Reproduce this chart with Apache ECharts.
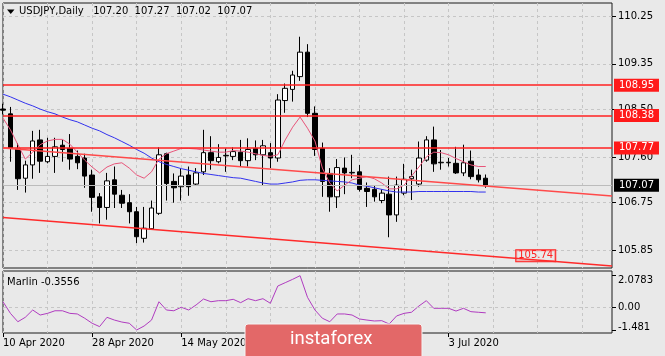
<!DOCTYPE html>
<html><head><meta charset="utf-8">
<script src="https://cdn.jsdelivr.net/npm/echarts@6/dist/echarts.min.js"></script>
<style>html,body{margin:0;padding:0;background:#e9e9e9;}#c{width:665px;height:356px;}</style>
</head><body><div id="c"></div>
<script>
const dates = ['10 Apr 2020','13 Apr 2020','14 Apr 2020','15 Apr 2020','16 Apr 2020','17 Apr 2020','20 Apr 2020','21 Apr 2020','22 Apr 2020','23 Apr 2020','24 Apr 2020','27 Apr 2020','28 Apr 2020','29 Apr 2020','30 Apr 2020','1 May 2020','4 May 2020','5 May 2020','6 May 2020','7 May 2020','8 May 2020','11 May 2020','12 May 2020','13 May 2020','14 May 2020','15 May 2020','18 May 2020','19 May 2020','20 May 2020','21 May 2020','22 May 2020','25 May 2020','26 May 2020','27 May 2020','28 May 2020','29 May 2020','1 Jun 2020','2 Jun 2020','3 Jun 2020','4 Jun 2020','5 Jun 2020','8 Jun 2020','9 Jun 2020','10 Jun 2020','11 Jun 2020','12 Jun 2020','15 Jun 2020','16 Jun 2020','17 Jun 2020','18 Jun 2020','19 Jun 2020','22 Jun 2020','23 Jun 2020','24 Jun 2020','25 Jun 2020','26 Jun 2020','29 Jun 2020','30 Jun 2020','1 Jul 2020','2 Jul 2020','3 Jul 2020','6 Jul 2020','7 Jul 2020','8 Jul 2020','9 Jul 2020','10 Jul 2020'];
const futureDates = ['13 Jul 2020','14 Jul 2020','15 Jul 2020','16 Jul 2020','17 Jul 2020','20 Jul 2020','21 Jul 2020','22 Jul 2020','23 Jul 2020','24 Jul 2020','27 Jul 2020','28 Jul 2020','29 Jul 2020','30 Jul 2020','31 Jul 2020','3 Aug 2020','4 Aug 2020'];
const opens  = [108.50,108.41,107.75,107.20,107.45,107.92,107.51,107.61,107.82,107.76,107.61,107.58,107.26,106.85,106.65,107.17,106.88,106.74,106.57,106.07,106.25,106.54,107.66,107.14,107.04,107.26,107.09,107.32,107.68,107.51,107.62,107.61,107.69,107.53,107.76,107.64,107.68,107.58,108.66,108.87,109.11,109.57,108.42,107.76,107.29,106.85,107.39,107.30,107.32,107.01,106.99,106.78,106.90,106.51,106.92,107.19,107.09,107.54,107.92,107.49,107.49,107.48,107.30,107.52,107.26,107.20];
const highs  = [108.60,108.54,107.86,107.53,108.09,108.11,107.96,107.96,107.92,108.03,107.72,107.66,107.36,106.92,107.30,107.42,106.98,106.90,106.66,106.66,106.78,107.78,107.68,107.29,107.39,107.42,107.39,108.11,107.99,107.84,107.76,107.78,107.92,107.95,107.91,107.92,107.86,108.78,108.98,109.22,109.86,109.72,108.55,107.87,107.39,107.56,107.59,107.64,107.45,107.12,107.07,106.99,107.23,107.23,107.47,107.36,107.89,107.99,108.17,107.73,107.58,107.79,107.83,107.72,107.37,107.27];
const lows   = [108.40,107.51,106.98,106.93,107.19,107.30,107.48,107.30,107.51,107.36,107.37,107.02,106.57,106.35,106.42,106.64,106.64,106.35,105.98,105.99,106.23,106.51,106.78,106.74,106.78,106.87,107.06,107.26,107.36,107.48,107.32,107.54,107.42,107.42,107.54,107.07,107.39,107.51,108.43,108.64,109.03,108.35,107.62,106.85,106.57,106.64,106.90,107.20,106.95,106.66,106.76,106.73,106.09,106.38,106.88,106.79,107.04,107.51,107.32,107.36,107.42,107.28,107.24,107.18,107.12,107.02];
const closes = [108.48,107.77,107.19,107.45,107.90,107.52,107.61,107.79,107.74,107.56,107.49,107.24,106.84,106.65,107.15,106.90,106.73,106.57,106.10,106.26,106.64,107.64,107.10,107.02,107.24,107.04,107.30,107.68,107.53,107.59,107.63,107.70,107.53,107.74,107.64,107.81,107.58,108.67,108.89,109.14,109.57,108.42,107.74,107.14,106.85,107.40,107.30,107.31,106.99,106.95,106.85,106.92,106.51,107.07,107.18,107.23,107.58,107.92,107.47,107.50,107.50,107.30,107.49,107.23,107.17,107.07];
const maSlow = [108.78,108.73,108.67,108.61,108.56,108.50,108.45,108.41,108.35,108.30,108.26,108.20,108.14,108.09,108.02,107.96,107.89,107.82,107.74,107.67,107.58,107.51,107.46,107.42,107.38,107.35,107.32,107.29,107.27,107.25,107.23,107.21,107.20,107.17,107.14,107.11,107.09,107.09,107.11,107.13,107.16,107.17,107.17,107.16,107.15,107.14,107.13,107.11,107.07,107.05,107.02,106.99,106.96,106.94,106.94,106.94,106.95,106.95,106.95,106.95,106.95,106.95,106.95,106.95,106.94,106.94];
const maFast = [108.33,108.11,107.83,107.56,107.69,107.83,107.90,107.93,107.93,107.84,107.69,107.54,107.41,107.30,107.41,107.47,107.49,107.39,107.26,107.20,107.32,107.56,107.66,107.71,107.76,107.76,107.75,107.73,107.71,107.69,107.69,107.72,107.71,107.69,107.66,107.63,107.61,107.64,107.92,108.16,108.35,108.14,107.90,107.39,107.11,106.96,107.07,107.17,107.20,107.23,107.19,107.11,107.00,107.00,107.07,107.24,107.41,107.60,107.69,107.68,107.64,107.57,107.51,107.45,107.42,107.42];
const marlin = [0.37,-0.39,-0.94,-0.65,-0.17,-0.50,-0.39,-0.22,-0.22,-0.39,-0.43,-0.71,-1.04,-1.26,-0.65,-0.83,-0.96,-1.04,-1.481,-1.22,-0.83,0.37,-0.17,-0.22,0.01,-0.17,0.16,0.55,0.37,0.44,0.44,0.53,0.31,0.57,0.44,0.57,0.27,1.40,1.62,1.84,2.0783,0.66,-0.17,-0.71,-0.94,-0.43,-0.43,-0.50,-0.76,-0.83,-0.89,-0.87,-1.09,-0.56,-0.39,-0.32,0.09,0.44,-0.06,-0.06,-0.06,-0.24,-0.06,-0.28,-0.32,-0.3556];
const levels = [108.95, 108.38, 107.77];
const lastPrice = 107.07;
const upperTrend = [107.77, 106.865];
const lowerTrend = [106.46, 105.55];
const lowerTag = 105.74;
const priceTicks = [110.25, 109.35, 108.50, 107.60, 106.75, 105.85];
const marlinTicks = [2.0783, 0, -1.481];
const marlinTickLabels = ['2.0783', '0.00', '-1.481'];
const titleText = 'USDJPY,Daily   107.20  107.27  107.02  107.07';
const marlinTitle = 'Marlin -0.3556';

const cats = dates.concat(futureDates);
const lastIdx = cats.length - 1;
const FONT = 'DejaVu Sans';
const grid = '#c6c6c6';
const showLabel = (i) => i % 12 === 0 && i < dates.length;

const chart = echarts.init(document.getElementById('c'), null, {renderer: 'canvas'});
chart.setOption({
  backgroundColor: '#e9e9e9',
  animation: false,
  grid: [
    {left: 3, top: 3, width: 609, height: 265, show: true, borderColor: '#1a1a1a', borderWidth: 1, backgroundColor: 'transparent'},
    {left: 3, top: 271, width: 609, height: 62, show: true, borderColor: '#1a1a1a', borderWidth: 1, backgroundColor: 'transparent'}
  ],
  xAxis: [
    {gridIndex: 0, type: 'category', data: cats, boundaryGap: false,
     axisLine: {show: false, onZero: false}, axisTick: {show: false}, axisLabel: {show: false},
     splitLine: {show: true, interval: 5, lineStyle: {color: grid, type: [3, 3], width: 1}}},
    {gridIndex: 1, type: 'category', data: cats, boundaryGap: false, position: 'bottom',
     axisLine: {show: false, onZero: false},
     axisTick: {show: true, interval: showLabel, length: 4, lineStyle: {color: '#000'}},
     axisLabel: {show: true, interval: showLabel, align: 'left', margin: 5, color: '#000', fontSize: 10, fontFamily: FONT},
     splitLine: {show: true, interval: 5, lineStyle: {color: grid, type: [3, 3], width: 1}}}
  ],
  yAxis: [
    {gridIndex: 0, type: 'value', position: 'right', min: 105.512, max: 110.494,
     axisLine: {show: false},
     axisTick: {show: true, length: 4, customValues: priceTicks, lineStyle: {color: '#000'}},
     axisLabel: {customValues: priceTicks, formatter: v => v.toFixed(2), color: '#000', fontSize: 10, fontFamily: FONT, margin: 6},
     splitLine: {show: true, lineStyle: {color: grid, type: [3, 3], width: 1}}},
    {gridIndex: 1, type: 'value', position: 'right', min: -1.678, max: 2.385,
     axisLine: {show: false},
     axisTick: {show: true, length: 4, customValues: marlinTicks, lineStyle: {color: '#000'}},
     axisLabel: {customValues: marlinTicks, margin: 6,
       formatter: v => {
         const k = marlinTicks.indexOf(v);
         const t = marlinTickLabels[k] || '';
         return k === 0 ? '{top|' + t + '}' : (k === 2 ? '{bot|' + t + '}' : '{mid|' + t + '}');
       },
       rich: {
         top: {color: '#000', fontSize: 10, fontFamily: FONT, padding: [9, 0, 0, 0]},
         mid: {color: '#000', fontSize: 10, fontFamily: FONT},
         bot: {color: '#000', fontSize: 10, fontFamily: FONT, padding: [0, 0, 5, 0]}
       }},
     splitLine: {show: false}}
  ],
  series: [
    {type: 'candlestick', xAxisIndex: 0, yAxisIndex: 0, barWidth: 5, z: 3,
     data: dates.map((d, i) => [opens[i], closes[i], lows[i], highs[i]]),
     itemStyle: {color: '#ffffff', color0: '#000000', borderColor: '#000000', borderColor0: '#000000', borderWidth: 1}},
    {type: 'line', xAxisIndex: 0, yAxisIndex: 0, data: maSlow, symbol: 'none', z: 4,
     lineStyle: {color: '#3232ee', width: 1}},
    {type: 'line', xAxisIndex: 0, yAxisIndex: 0, data: maFast, symbol: 'none', z: 4,
     lineStyle: {color: '#e8557a', width: 1}},
    {type: 'line', xAxisIndex: 0, yAxisIndex: 0, symbol: 'none', z: 5,
     data: [[cats[0], upperTrend[0]], [cats[lastIdx], upperTrend[1]]],
     lineStyle: {color: '#ff4a4a', width: 1.5}},
    {type: 'line', xAxisIndex: 0, yAxisIndex: 0, symbol: 'none', z: 5,
     data: [[cats[0], lowerTrend[0]], [cats[lastIdx], lowerTrend[1]]],
     lineStyle: {color: '#ff2a2a', width: 1.5},
     markPoint: {symbol: 'rect', symbolSize: 0, silent: true,
       data: [{coord: [cats[72], lowerTag], value: lowerTag}],
       label: {show: true, position: 'inside', offset: [-2, 0], formatter: lowerTag.toFixed(2), color: '#ff2020', fontSize: 10, fontFamily: FONT,
               borderColor: '#ff2020', borderWidth: 1, padding: [1, 2, 0, 2], backgroundColor: 'rgba(233,233,233,0.6)'}}},
    {type: 'line', xAxisIndex: 0, yAxisIndex: 0, data: [], z: 6,
     markLine: {silent: true, symbol: 'none', animation: false,
       data: [
         {yAxis: lastPrice, lineStyle: {color: '#bcbcbc', width: 1, type: 'solid'},
          label: {show: true, position: 'end', distance: 2, formatter: lastPrice.toFixed(2), color: '#fff', backgroundColor: '#000', padding: [2, 5, 1, 5], fontSize: 10, fontFamily: FONT}}
       ].concat(levels.map(v => ({yAxis: v, lineStyle: {color: '#ff2020', width: 1.5, type: 'solid'},
          label: {show: true, position: 'end', distance: 2, formatter: v.toFixed(2), color: '#fff', backgroundColor: '#ff1a1a', padding: [2, 5, 1, 5], fontSize: 10, fontFamily: FONT}})))
     }},
    {type: 'line', xAxisIndex: 1, yAxisIndex: 1, data: marlin, symbol: 'none', z: 4,
     lineStyle: {color: '#b03cc0', width: 1},
     markLine: {silent: true, symbol: 'none', data: [{yAxis: 0}], label: {show: false},
       lineStyle: {color: grid, type: [3, 3], width: 1}}}
  ],
  graphic: [
    {type: 'polygon', shape: {points: [[7, 9.5], [14.5, 9.5], [10.75, 14]]}, style: {fill: '#000'}, z: 100},
    {type: 'text', left: 19, top: 6, style: {text: titleText, fill: '#000', font: '10px "DejaVu Sans"'}, z: 100},
    {type: 'text', left: 7, top: 277, style: {text: marlinTitle, fill: '#000', font: '10px "DejaVu Sans"'}, z: 100},
    {type: 'rect', shape: {x: 245, y: 324, width: 177, height: 40, r: 3}, style: {fill: '#e36868', stroke: '#f4f4f4', lineWidth: 1}, z: 100},
    {type: 'text', x: 290, y: 330, style: {text: 'instaforex', fill: '#ffffff', font: '18.5px Roboto'}, z: 101}
  ]
});
</script></body></html>
